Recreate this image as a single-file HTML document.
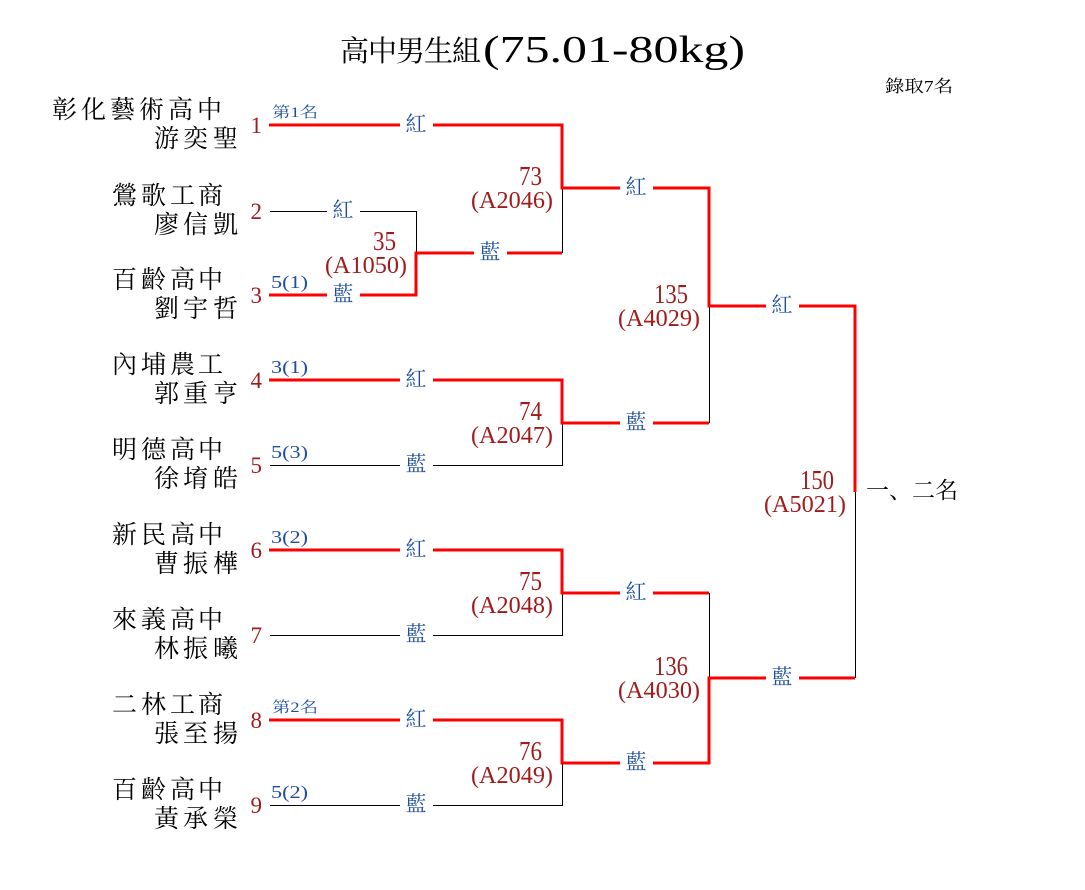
<!DOCTYPE html>
<html><head><meta charset="utf-8"><style>
html,body{margin:0;padding:0;background:#fff;}
svg{display:block;}
.cjk{font-family:"Liberation Serif","Noto Serif CJK SC",serif;fill:#000;}
.num{font-family:"Liberation Serif","Noto Serif CJK SC",serif;fill:#a01c1c;}
.blu{font-family:"Liberation Serif","Noto Serif CJK SC",serif;fill:#1d4e9f;}
</style></head><body>
<svg width="1085" height="890" viewBox="0 0 1085 890" xmlns="http://www.w3.org/2000/svg">
<rect width="1085" height="890" fill="#fff"/>
<!-- Title -->
<text class="cjk" font-size="29" x="340 368 396 424 452" y="61">高中男生組</text>
<text class="cjk" font-size="38" x="483" y="62" textLength="262" lengthAdjust="spacingAndGlyphs">(75.01-80kg)</text>
<text class="cjk" font-size="17" x="885" y="92" textLength="68" lengthAdjust="spacingAndGlyphs">錄取7名</text>

<!-- thin black lines -->
<g fill="none" stroke="#000" stroke-width="1">
<path d="M270 211.5 H416.5 V253"/>
<path d="M562.5 188 V253"/>
<path d="M270 465.5 H562.5 V423"/>
<path d="M709.5 306 V423"/>
<path d="M270 635.5 H562.5 V593"/>
<path d="M270 805.5 H562.5 V763"/>
<path d="M709.5 593 V678"/>
<path d="M855.5 492 V678"/>
</g>
<!-- red lines -->
<g fill="none" stroke="#ff0000" stroke-width="3" stroke-linejoin="miter">
<path d="M269 125 H562 V188 H709 V306 H855 V492"/>
<path d="M269 295 H416 V253 H562"/>
<path d="M269 380 H562 V423 H709"/>
<path d="M269 550 H562 V593 H709"/>
<path d="M269 720 H562 V763 H709 V678 H855"/>
</g>

<!-- label gaps -->
<g fill="#fff">
<rect x="400" y="121" width="33" height="8"/>
<rect x="327" y="207" width="33" height="8"/>
<rect x="327" y="291" width="33" height="8"/>
<rect x="474" y="249" width="33" height="8"/>
<rect x="400" y="376" width="33" height="8"/>
<rect x="400" y="461" width="33" height="8"/>
<rect x="400" y="546" width="33" height="8"/>
<rect x="400" y="631" width="33" height="8"/>
<rect x="400" y="716" width="33" height="8"/>
<rect x="400" y="801" width="33" height="8"/>
<rect x="620" y="184" width="33" height="8"/>
<rect x="620" y="419" width="33" height="8"/>
<rect x="620" y="589" width="33" height="8"/>
<rect x="620" y="759" width="33" height="8"/>
<rect x="766" y="302" width="33" height="8"/>
<rect x="766" y="674" width="33" height="8"/>
</g>
<!-- 紅/藍 labels -->
<g class="blu" font-size="21" text-anchor="middle">
<text x="416" y="131">紅</text>
<text x="343" y="217">紅</text>
<text x="343" y="301">藍</text>
<text x="490" y="259">藍</text>
<text x="416" y="386">紅</text>
<text x="416" y="471">藍</text>
<text x="416" y="556">紅</text>
<text x="416" y="641">藍</text>
<text x="416" y="726">紅</text>
<text x="416" y="811">藍</text>
<text x="636" y="194">紅</text>
<text x="636" y="429">藍</text>
<text x="636" y="599">紅</text>
<text x="636" y="769">藍</text>
<text x="782" y="312">紅</text>
<text x="782" y="684">藍</text>
</g>

<!-- seed labels -->
<g class="blu">
<text font-size="15" x="272" y="117" textLength="46" lengthAdjust="spacingAndGlyphs">第1名</text>
<text font-size="18" x="271" y="288" textLength="37" lengthAdjust="spacingAndGlyphs">5(1)</text>
<text font-size="18" x="271" y="373" textLength="37" lengthAdjust="spacingAndGlyphs">3(1)</text>
<text font-size="18" x="271" y="458" textLength="37" lengthAdjust="spacingAndGlyphs">5(3)</text>
<text font-size="18" x="271" y="543" textLength="37" lengthAdjust="spacingAndGlyphs">3(2)</text>
<text font-size="15" x="272" y="712" textLength="46" lengthAdjust="spacingAndGlyphs">第2名</text>
<text font-size="18" x="271" y="798" textLength="37" lengthAdjust="spacingAndGlyphs">5(2)</text>
</g>

<!-- player numbers -->
<g class="num" font-size="23" text-anchor="end">
<text x="262" y="133">1</text>
<text x="262" y="219">2</text>
<text x="262" y="303">3</text>
<text x="262" y="388">4</text>
<text x="262" y="473">5</text>
<text x="262" y="558">6</text>
<text x="262" y="643">7</text>
<text x="262" y="728">8</text>
<text x="262" y="813">9</text>
</g>

<!-- match numbers -->
<g class="num">
<text font-size="27" x="373" y="250" textLength="23" lengthAdjust="spacingAndGlyphs">35</text>
<text font-size="24" x="325" y="273" textLength="82" lengthAdjust="spacingAndGlyphs">(A1050)</text>
<text font-size="27" x="519" y="185" textLength="23" lengthAdjust="spacingAndGlyphs">73</text>
<text font-size="24" x="471" y="208" textLength="82" lengthAdjust="spacingAndGlyphs">(A2046)</text>
<text font-size="27" x="519" y="420" textLength="23" lengthAdjust="spacingAndGlyphs">74</text>
<text font-size="24" x="471" y="443" textLength="82" lengthAdjust="spacingAndGlyphs">(A2047)</text>
<text font-size="27" x="519" y="590" textLength="23" lengthAdjust="spacingAndGlyphs">75</text>
<text font-size="24" x="471" y="613" textLength="82" lengthAdjust="spacingAndGlyphs">(A2048)</text>
<text font-size="27" x="519" y="760" textLength="23" lengthAdjust="spacingAndGlyphs">76</text>
<text font-size="24" x="471" y="783" textLength="82" lengthAdjust="spacingAndGlyphs">(A2049)</text>
<text font-size="27" x="654" y="303" textLength="34" lengthAdjust="spacingAndGlyphs">135</text>
<text font-size="24" x="618" y="326" textLength="82" lengthAdjust="spacingAndGlyphs">(A4029)</text>
<text font-size="27" x="654" y="675" textLength="34" lengthAdjust="spacingAndGlyphs">136</text>
<text font-size="24" x="618" y="698" textLength="82" lengthAdjust="spacingAndGlyphs">(A4030)</text>
<text font-size="27" x="800" y="489" textLength="34" lengthAdjust="spacingAndGlyphs">150</text>
<text font-size="24" x="764" y="512" textLength="82" lengthAdjust="spacingAndGlyphs">(A5021)</text>
</g>

<text class="cjk" font-size="23" x="866" y="498" textLength="92" lengthAdjust="spacing">一、二名</text>

<!-- school and player names -->
<g class="cjk" font-size="25">
<text x="52 81 110 139 168 197" y="118">彰化藝術高中</text>
<text x="154 183 213" y="147">游奕聖</text>
<text x="112 141 170 198" y="204">鶯歌工商</text>
<text x="154 183 213" y="233">廖信凱</text>
<text x="112 141 170 198" y="288">百齡高中</text>
<text x="154 183 213" y="317">劉宇哲</text>
<text x="112 141 170 198" y="373">內埔農工</text>
<text x="154 183 213" y="402">郭重亨</text>
<text x="112 141 170 198" y="458">明德高中</text>
<text x="154 183 213" y="487">徐堉皓</text>
<text x="112 141 170 198" y="543">新民高中</text>
<text x="154 183 213" y="572">曹振樺</text>
<text x="112 141 170 198" y="628">來義高中</text>
<text x="154 183 213" y="657">林振曦</text>
<text x="112 141 170 198" y="713">二林工商</text>
<text x="154 183 213" y="742">張至揚</text>
<text x="112 141 170 198" y="798">百齡高中</text>
<text x="154 183 213" y="827">黃承榮</text>
</g>
</svg>
</body></html>
